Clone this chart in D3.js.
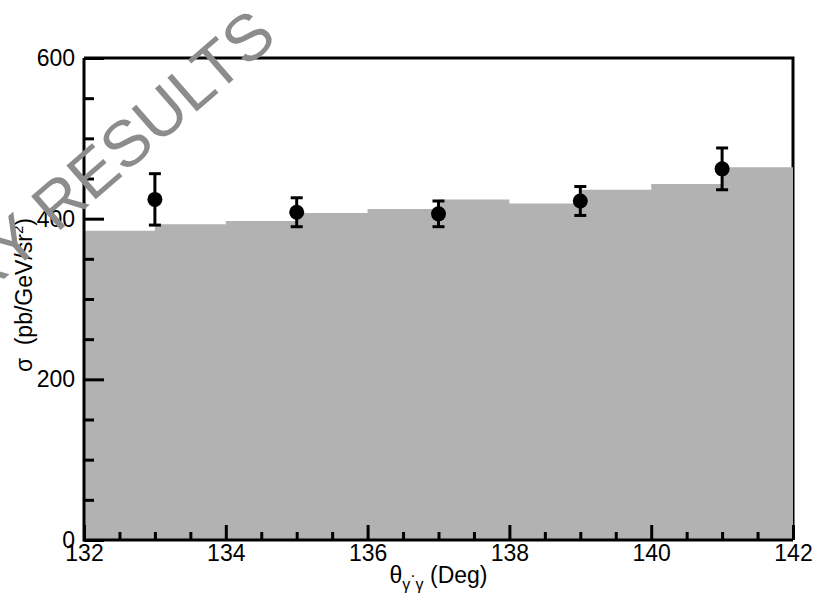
<!DOCTYPE html>
<html>
<head>
<meta charset="utf-8">
<script src="https://cdn.jsdelivr.net/npm/d3@7"></script>
<style>
  body { margin: 0; background: #fff; }
  svg { display: block; font-family: "Liberation Sans", Arial, sans-serif; }
</style>
</head>
<body>
<div id="chart"></div>
<script>
// histogram bin edges (deg) and theory cross section per bin
var binEdges = [132, 133, 134, 135, 136, 137, 138, 139, 140, 141, 142];
var theory = [385, 393, 397, 407, 412, 424, 419, 436, 443, 464];

// measured points
var angles = [133, 135, 137, 139, 141];
var sigma = [424, 408, 406, 422, 462];
var errors = [32, 18, 16, 18, 26];

var xTicks = [132, 134, 136, 138, 140, 142];
var yTicks = [0, 200, 400, 600];

var width = 817, height = 600;
var margin = {top: 58, right: 24, bottom: 60, left: 84};

var svg = d3.select("#chart").append("svg")
    .attr("width", width)
    .attr("height", height);

var x = d3.scaleLinear().domain([132, 142]).range([margin.left, width - margin.right]);
var y = d3.scaleLinear().domain([0, 600]).range([height - margin.bottom, margin.top]);

// top and right frame lines (gray fill covers part of the right one)
svg.append("path")
    .attr("d", "M" + x(132) + "," + y(600) + "H" + x(142) + "V" + y(0))
    .attr("fill", "none")
    .attr("stroke", "#000")
    .attr("stroke-width", 3);

// theory histogram
var steps = binEdges.map(function(e, i){
    return {x: e, v: theory[Math.min(i, theory.length - 1)]};
});
var area = d3.area()
    .curve(d3.curveStepAfter)
    .x(function(d){ return x(d.x); })
    .y0(y(0))
    .y1(function(d){ return y(d.v); });
svg.append("path")
    .datum(steps)
    .attr("d", area)
    .attr("fill", "#b2b2b2");

// error bars + markers
var pts = angles.map(function(a, i){ return {a: a, s: sigma[i], e: errors[i]}; });
var g = svg.append("g");
g.selectAll(".eb").data(pts).enter().append("line")
    .attr("x1", function(d){ return x(d.a); })
    .attr("x2", function(d){ return x(d.a); })
    .attr("y1", function(d){ return y(d.s - d.e); })
    .attr("y2", function(d){ return y(d.s + d.e); })
    .attr("stroke", "#000").attr("stroke-width", 3);
[-1, 1].forEach(function(sgn){
    g.selectAll(".cap" + sgn).data(pts).enter().append("line")
        .attr("x1", function(d){ return x(d.a) - 6; })
        .attr("x2", function(d){ return x(d.a) + 6; })
        .attr("y1", function(d){ return y(d.s + sgn * d.e); })
        .attr("y2", function(d){ return y(d.s + sgn * d.e); })
        .attr("stroke", "#000").attr("stroke-width", 3);
});
g.selectAll("circle").data(pts).enter().append("circle")
    .attr("cx", function(d){ return x(d.a); })
    .attr("cy", function(d){ return y(d.s); })
    .attr("r", 7.5)
    .attr("fill", "#000");

// axes
function styleAxis(sel){
    sel.selectAll(".tick line").attr("stroke", "#000").attr("stroke-width", 3);
    sel.selectAll(".tick text").attr("fill", "#000").style("font-size", "23px");
    sel.select(".domain").remove();
}
var xMinor = d3.range(132, 142.01, 0.5).filter(function(v){ return xTicks.indexOf(v) < 0; });
var yMinor = d3.range(0, 600.01, 50).filter(function(v){ return yTicks.indexOf(v) < 0; });

svg.append("g")
    .attr("transform", "translate(0," + y(0) + ")")
    .call(d3.axisBottom(x).tickValues(xMinor).tickSize(-8).tickFormat(""))
    .call(styleAxis);
svg.append("g")
    .attr("transform", "translate(0," + y(0) + ")")
    .call(d3.axisBottom(x).tickValues(xTicks).tickSize(-15).tickPadding(5).tickFormat(d3.format("d")))
    .call(styleAxis);
svg.append("g")
    .attr("transform", "translate(" + x(132) + ",0)")
    .call(d3.axisLeft(y).tickValues(yMinor).tickSize(-10).tickFormat(""))
    .call(styleAxis);
svg.append("g")
    .attr("transform", "translate(" + x(132) + ",0)")
    .call(d3.axisLeft(y).tickValues(yTicks).tickSize(-20).tickPadding(9).tickFormat(d3.format("d")))
    .call(styleAxis);

// left and bottom axis lines
svg.append("path")
    .attr("d", "M" + x(132) + "," + y(600) + "V" + y(0) + "H" + x(142))
    .attr("fill", "none")
    .attr("stroke", "#000")
    .attr("stroke-width", 3);

// axis titles
var xt = svg.append("text")
    .attr("x", (x(132) + x(142)) / 2)
    .attr("y", 583)
    .attr("text-anchor", "middle")
    .style("font-size", "23px");
xt.append("tspan").text("θ");
xt.append("tspan").attr("dy", 7).style("font-size", "16px").text("γ");
xt.append("tspan").attr("dy", -9).style("font-size", "16px").text("·");
xt.append("tspan").attr("dy", 9).style("font-size", "16px").text("γ");
xt.append("tspan").attr("dy", -7).text(" (Deg)");

var yt = svg.append("text")
    .attr("transform", "translate(32,295) rotate(-90)")
    .attr("text-anchor", "middle")
    .style("font-size", "23px");
yt.append("tspan").text("σ");
yt.append("tspan").attr("dx", 6).text(" (pb/GeV/sr");
yt.append("tspan").attr("dy", -9).style("font-size", "15px").text("2");
yt.append("tspan").attr("dy", 9).text(")");

// watermark
svg.append("text")
    .attr("transform", "translate(279,40) rotate(-41)")
    .attr("text-anchor", "end")
    .attr("fill", "#8c8c8c")
    .style("font-size", "65px")
    .text("PRELIMINARY RESULTS");
</script>
</body>
</html>
